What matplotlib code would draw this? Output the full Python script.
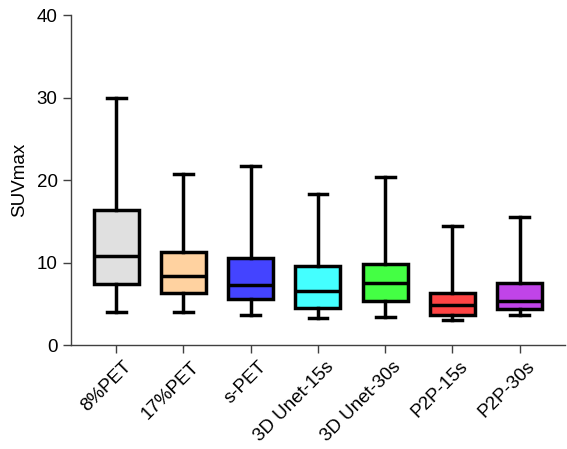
import numpy as np
import matplotlib.pyplot as plt
import matplotlib.transforms as mtrans

plt.rcParams['font.family'] = ['Liberation Sans', 'DejaVu Sans']

labels = ['8%PET', '17%PET', 's-PET', '3D Unet-15s', '3D Unet-30s', 'P2P-15s', 'P2P-30s']
whislo = [4.0, 4.0, 3.6, 3.3, 3.4, 3.0, 3.6]
q1 = [7.4, 6.35, 5.6, 4.45, 5.4, 3.65, 4.4]
med = [10.8, 8.4, 7.3, 6.55, 7.5, 4.8, 5.4]
q3 = [16.4, 11.3, 10.6, 9.6, 9.8, 6.3, 7.5]
whishi = [30.0, 20.75, 21.7, 18.3, 20.35, 14.45, 15.55]
colors = ['#e0e0e0', '#ffd2a0', '#4444ff', '#44ffff', '#44ff44', '#ff4444', '#c044e8']

stats = []
for i in range(len(labels)):
    stats.append(dict(label=labels[i], whislo=whislo[i], q1=q1[i], med=med[i],
                      q3=q3[i], whishi=whishi[i], fliers=[]))

fig = plt.figure(figsize=(5.67, 4.49), dpi=100)
ax = fig.add_axes([0.125, 0.2316, 0.8715, 0.734])

lw = 2.5
bp = ax.bxp(stats, positions=np.arange(len(labels)), widths=0.67, patch_artist=True,
            showfliers=False,
            boxprops=dict(linewidth=lw, edgecolor='black'),
            medianprops=dict(color='black', linewidth=lw),
            whiskerprops=dict(color='black', linewidth=lw),
            capprops=dict(color='black', linewidth=lw),
            capwidths=0.28)
for patch, c in zip(bp['boxes'], colors):
    patch.set_facecolor(c)

ax.set_xlim(-0.675, 6.675)
ax.set_ylim(0, 40)
ax.set_yticks([0, 10, 20, 30, 40])
ax.set_xticks(np.arange(len(labels)))
ax.set_xticklabels(labels, rotation=45, ha='right', rotation_mode='anchor', fontsize=13.5)
ax.set_ylabel('SUVmax', fontsize=13.5, labelpad=6)
ax.tick_params(axis='both', length=6, width=1, color='#404040')
ax.tick_params(axis='y', labelsize=13.5)
# nudge the rotated labels a little to the right, like the original
offset = mtrans.ScaledTranslation(5/72, 0, fig.dpi_scale_trans)
for lab in ax.get_xticklabels():
    lab.set_transform(lab.get_transform() + offset)
for s in ['top', 'right']:
    ax.spines[s].set_visible(False)
for s in ['left', 'bottom']:
    ax.spines[s].set_color('#404040')
    ax.spines[s].set_linewidth(1)

fig.savefig('out.png', dpi=100)
